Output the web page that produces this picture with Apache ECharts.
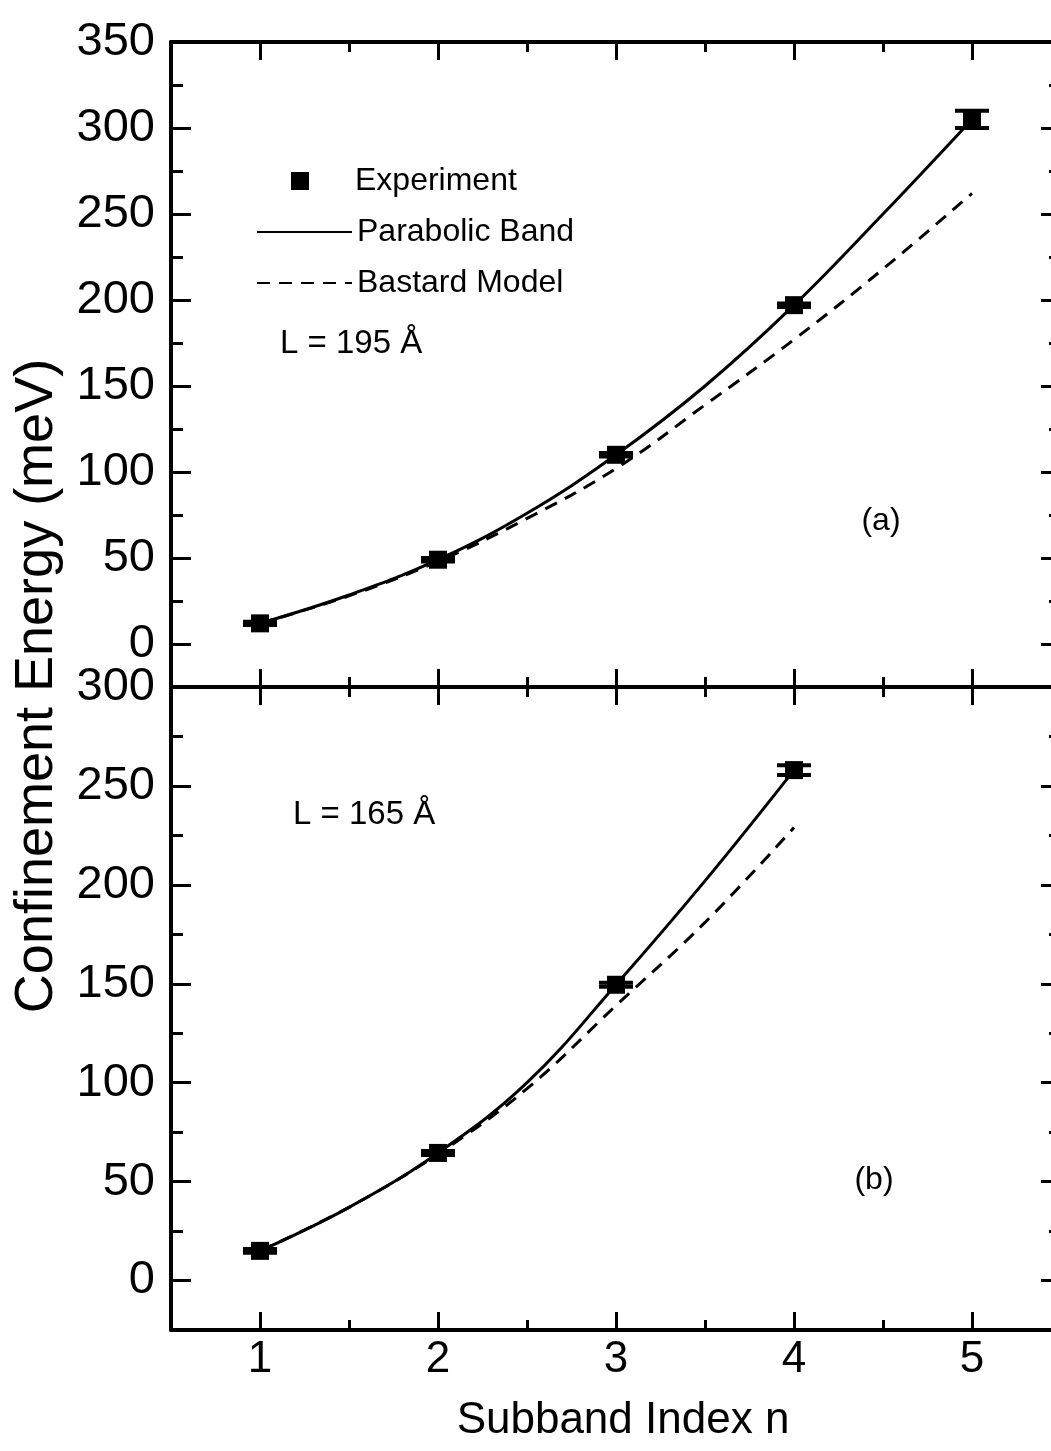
<!DOCTYPE html>
<html>
<head>
<meta charset="utf-8">
<script src="https://cdn.jsdelivr.net/npm/echarts@6/dist/echarts.min.js"></script>
<style>
html,body{margin:0;padding:0;background:#fff;}
#chart{width:1051px;height:1451px;}
</style>
</head>
<body>
<div id="chart"></div>
<script>
// ---- Data ----
const nTopExp = [1, 2, 3, 4, 5];
const eTopExp = [12, 49, 110, 197, 305];
const eTopErr = [1, 1, 1, 1, 5];
const nTopCurve = [1, 1.5, 2, 2.5, 3, 3.5, 4, 4.5, 5];
const topParabolic = [12, 28.5, 49, 76, 110, 150, 197, 250, 305];
const topBastard = [12, 28, 48, 73, 102, 139, 177, 218, 262];

const nBotExp = [1, 2, 3, 4];
const eBotExp = [15, 64.5, 149.5, 258];
const eBotErr = [1, 1, 1, 2.5];
const nBotCurve = [1, 1.5, 2, 2.5, 3, 3.5, 4];
const botParabolic = [15, 37, 64.5, 100, 149.5, 202, 258];
const botBastard = [15, 37, 64, 97, 139, 181, 229];

const xMajorTicks = [1, 2, 3, 4, 5];
const yTopMajorTicks = [0, 50, 100, 150, 200, 250, 300, 350];
const yBotMajorTicks = [0, 50, 100, 150, 200, 250, 300];

const xTitle = 'Subband Index n';
const yTitle = 'Confinement Energy (meV)';
const legendNames = ['Experiment', 'Parabolic Band', 'Bastard Model'];
const topLabel = 'L = 195 Å';
const botLabel = 'L = 165 Å';
const panelA = '(a)';
const panelB = '(b)';

// ---- helpers ----
const FONT = 'Liberation Sans, Arial, sans-serif';
const zip = (a, b) => a.map((v, i) => [v, b[i]]);
const zip3 = (a, b, c) => a.map((v, i) => [v, b[i], c[i]]);

function xAx(grid, pos, major, labels) {
  const ax = {
    type: 'value', gridIndex: grid, position: pos, min: 0.5, max: 5.5, interval: 0.5,
    splitLine: {show: false},
    axisLine: {show: !major, onZero: false, lineStyle: {color: '#000', width: 4}},
    axisTick: {show: true, inside: true, length: major ? 18 : 10, lineStyle: {color: '#000', width: 3}},
    axisLabel: {show: false}
  };
  if (major) ax.axisTick.customValues = xMajorTicks;
  if (labels) ax.axisLabel = {show: true, customValues: xMajorTicks, color: '#000', fontSize: 44, fontFamily: FONT, margin: 8};
  return ax;
}
function yAx(grid, pos, major, max, majors, labels) {
  const ax = {
    type: 'value', gridIndex: grid, position: pos, min: -25, max: max, interval: 25,
    splitLine: {show: false},
    axisLine: {show: !major, onZero: false, lineStyle: {color: '#000', width: 4}},
    axisTick: {show: true, inside: true, length: major ? 20 : 12, lineStyle: {color: '#000', width: 3}},
    axisLabel: {show: false}
  };
  if (major) ax.axisTick.customValues = majors;
  if (labels) ax.axisLabel = {show: true, customValues: majors, color: '#000', fontSize: 47, fontFamily: FONT, margin: 16};
  return ax;
}

function errBar(xi, yi, data) {
  return {
    type: 'custom', name: 'err', xAxisIndex: xi, yAxisIndex: yi, data: data, z: 4,
    encode: {x: 0, y: 1},
    renderItem: function (params, api) {
      const x = api.value(0), y = api.value(1), e = api.value(2);
      const t = api.coord([x, y + e]), b = api.coord([x, y - e]);
      const hw = 17, st = {stroke: '#000', lineWidth: 4};
      return {type: 'group', children: [
        {type: 'line', shape: {x1: t[0], y1: t[1], x2: b[0], y2: b[1]}, style: st},
        {type: 'line', shape: {x1: t[0] - hw, y1: t[1], x2: t[0] + hw, y2: t[1]}, style: st},
        {type: 'line', shape: {x1: b[0] - hw, y1: b[1], x2: b[0] + hw, y2: b[1]}, style: st}
      ]};
    }
  };
}

const chart = echarts.init(document.getElementById('chart'), null, {renderer: 'canvas'});
const legendText = {color: '#000', fontSize: 32, fontFamily: FONT};
const hiddenSym = {opacity: 0, color: 'rgba(0,0,0,0)', borderWidth: 0};
const option = {
  backgroundColor: '#fff',
  animation: false,
  grid: [
    {left: 171, width: 890, top: 42, height: 645, outerBoundsMode: 'none', containLabel: false},
    {left: 171, width: 890, top: 687, height: 643, outerBoundsMode: 'none', containLabel: false}
  ],
  xAxis: [
    xAx(0, 'bottom', false), xAx(0, 'bottom', true),
    xAx(0, 'top', false), xAx(0, 'top', true),
    xAx(1, 'bottom', false, true), xAx(1, 'bottom', true),
    xAx(1, 'top', false), xAx(1, 'top', true)
  ],
  yAxis: [
    yAx(0, 'left', false, 350, yTopMajorTicks, true), yAx(0, 'left', true, 350, yTopMajorTicks),
    yAx(0, 'right', false, 350, yTopMajorTicks), yAx(0, 'right', true, 350, yTopMajorTicks),
    yAx(1, 'left', false, 300, yBotMajorTicks, true), yAx(1, 'left', true, 300, yBotMajorTicks),
    yAx(1, 'right', false, 300, yBotMajorTicks), yAx(1, 'right', true, 300, yBotMajorTicks)
  ],
  legend: [
    {data: [{name: legendNames[0], icon: 'rect'}], left: 291, top: 165, padding: 0, itemWidth: 18, itemHeight: 18, itemGap: 0,
     textStyle: Object.assign({padding: [0, 0, 0, 41]}, legendText), selectedMode: false},
    {data: [legendNames[1]], left: 256, top: 216, padding: 0, itemWidth: 95, itemHeight: 18, itemGap: 0, textStyle: legendText, itemStyle: hiddenSym, selectedMode: false},
    {data: [legendNames[2]], left: 256, top: 267, padding: 0, itemWidth: 95, itemHeight: 18, itemGap: 0, textStyle: legendText, itemStyle: hiddenSym, selectedMode: false}
  ],
  series: [
    {type: 'line', name: legendNames[1], xAxisIndex: 0, yAxisIndex: 0, data: zip(nTopCurve, topParabolic), smooth: 0.4, symbol: 'none', lineStyle: {color: '#000', width: 3}, itemStyle: {color: '#000'}, z: 3},
    {type: 'line', name: legendNames[2], xAxisIndex: 0, yAxisIndex: 0, data: zip(nTopCurve, topBastard), smooth: 0.4, symbol: 'none', lineStyle: {color: '#000', width: 3, type: [13, 9]}, itemStyle: {color: '#000'}, z: 3},
    errBar(0, 0, zip3(nTopExp, eTopExp, eTopErr)),
    {type: 'scatter', name: legendNames[0], xAxisIndex: 0, yAxisIndex: 0, data: zip(nTopExp, eTopExp), symbol: 'rect', symbolSize: 18, itemStyle: {color: '#000', opacity: 1}, z: 5},
    {type: 'line', name: legendNames[1], xAxisIndex: 4, yAxisIndex: 4, data: zip(nBotCurve, botParabolic), smooth: 0.4, symbol: 'none', lineStyle: {color: '#000', width: 3}, itemStyle: {color: '#000'}, z: 3},
    {type: 'line', name: legendNames[2], xAxisIndex: 4, yAxisIndex: 4, data: zip(nBotCurve, botBastard), smooth: 0.4, symbol: 'none', lineStyle: {color: '#000', width: 3, type: [13, 9]}, itemStyle: {color: '#000'}, z: 3},
    errBar(4, 4, zip3(nBotExp, eBotExp, eBotErr)),
    {type: 'scatter', name: legendNames[0], xAxisIndex: 4, yAxisIndex: 4, data: zip(nBotExp, eBotExp), symbol: 'rect', symbolSize: 18, itemStyle: {color: '#000', opacity: 1}, z: 5}
  ],
  graphic: [
    {type: 'text', x: 37, y: 686, rotation: Math.PI / 2, style: {text: yTitle, font: '54px ' + FONT, fill: '#000', align: 'center', verticalAlign: 'middle', textAlign: 'center', textVerticalAlign: 'middle'}},
    {type: 'text', x: 623, y: 1421, style: {text: xTitle, font: '44px ' + FONT, fill: '#000', align: 'center', verticalAlign: 'middle', textAlign: 'center', textVerticalAlign: 'middle'}},
    {type: 'text', x: 280, y: 344, style: {text: topLabel, font: '33px ' + FONT, fill: '#000', align: 'left', verticalAlign: 'middle', textAlign: 'left', textVerticalAlign: 'middle'}},
    {type: 'text', x: 293, y: 815, style: {text: botLabel, font: '33px ' + FONT, fill: '#000', align: 'left', verticalAlign: 'middle', textAlign: 'left', textVerticalAlign: 'middle'}},
    {type: 'text', x: 881, y: 521, style: {text: panelA, font: '32px ' + FONT, fill: '#000', align: 'center', verticalAlign: 'middle', textAlign: 'center', textVerticalAlign: 'middle'}},
    {type: 'text', x: 874, y: 1180, style: {text: panelB, font: '32px ' + FONT, fill: '#000', align: 'center', verticalAlign: 'middle', textAlign: 'center', textVerticalAlign: 'middle'}}
  ]
};
chart.setOption(option);
</script>
</body>
</html>
